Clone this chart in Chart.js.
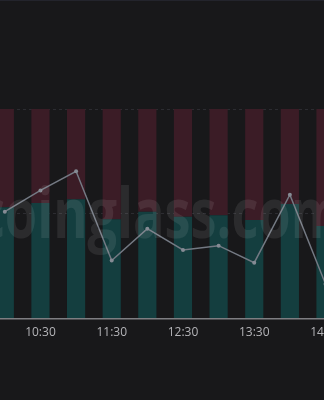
<!DOCTYPE html>
<html>
<head>
<meta charset="utf-8">
<script src="https://cdn.jsdelivr.net/npm/chart.js@4/dist/chart.umd.min.js"></script>
<style>
  html, body { margin: 0; padding: 0; background: #18181a; }
  #wrap { position: relative; width: 324px; height: 400px; overflow: hidden; background: #18181a; border-top: 1px solid #23242c; box-sizing: border-box; }
  #box { position: absolute; left: -17px; top: -1px; width: 365px; height: 400px; }
</style>
</head>
<body>
<div id="wrap"><div id="box"><canvas id="js-canvas-ratio"></canvas></div></div>
<script>
// half-hour buckets, only the :30 ones get a label
const times = ['10:00', '10:30', '11:00', '11:30', '12:00', '12:30', '13:00', '13:30', '14:00', '14:30'];
// long / short share in percent
const longPct = [53.1, 55.1, 56.9, 47.4, 51.0, 48.6, 49.3, 47.0, 54.7, 44.2];
const shortPct = longPct.map(v => +(100 - v).toFixed(1));
// long/short ratio line
const ratio = [1.13, 1.23, 1.32, 0.90, 1.05, 0.95, 0.97, 0.89, 1.21, 0.79];

const watermark = {
  id: 'watermark',
  afterDatasetsDraw(chart) {
    const c = chart.ctx;
    const text = 'coinglass.com';
    c.save();
    c.font = 'bold 70px "Open Sans", sans-serif';
    // squeeze it to the width seen in the picture
    const sx = 364 / c.measureText(text).width;
    c.translate(177, 238);
    c.scale(sx, 1);
    c.fillStyle = 'rgba(255,255,255,0.085)';
    c.textAlign = 'center';
    c.textBaseline = 'alphabetic';
    c.fillText(text, 0, 0);
    c.restore();
  }
};

const ctx = document.getElementById('js-canvas-ratio');
new Chart(ctx, {
  data: {
    labels: times,
    datasets: [
      {
        type: 'line',
        data: ratio,
        yAxisID: 'y1',
        order: 0,
        borderColor: '#737983',
        borderWidth: 1.5,
        pointRadius: 2,
        pointBackgroundColor: '#858b94',
        pointBorderWidth: 0,
        tension: 0
      },
      {
        type: 'bar',
        data: longPct,
        order: 1,
        backgroundColor: '#143e3f',
        categoryPercentage: 0.51,
        barPercentage: 1
      },
      {
        type: 'bar',
        data: shortPct,
        order: 1,
        backgroundColor: '#3b1c26',
        categoryPercentage: 0.51,
        barPercentage: 1
      }
    ]
  },
  options: {
    responsive: true,
    maintainAspectRatio: false,
    animation: false,
    layout: { padding: { top: 109, bottom: 53, left: 0, right: 0 } },
    plugins: { legend: { display: false }, tooltip: { enabled: false } },
    scales: {
      x: {
        stacked: true,
        grid: { display: false, drawTicks: false },
        border: { color: '#7e7e82', width: 1.5 },
        ticks: {
          autoSkip: false,
          maxRotation: 0,
          padding: 7,
          color: '#b4b4b8',
          font: { family: '"Open Sans", sans-serif', size: 12 },
          callback: (v, i) => (i % 2 === 1 ? times[i] : '')
        }
      },
      y: {
        stacked: true,
        min: 0,
        max: 100,
        ticks: { display: false, stepSize: 50 },
        grid: { color: '#2c2c31', drawTicks: false },
        border: { display: false, dash: [3, 3] }
      },
      y1: {
        display: false,
        min: 0.627,
        max: 1.613
      }
    }
  },
  plugins: [watermark]
});
</script>
</body>
</html>
